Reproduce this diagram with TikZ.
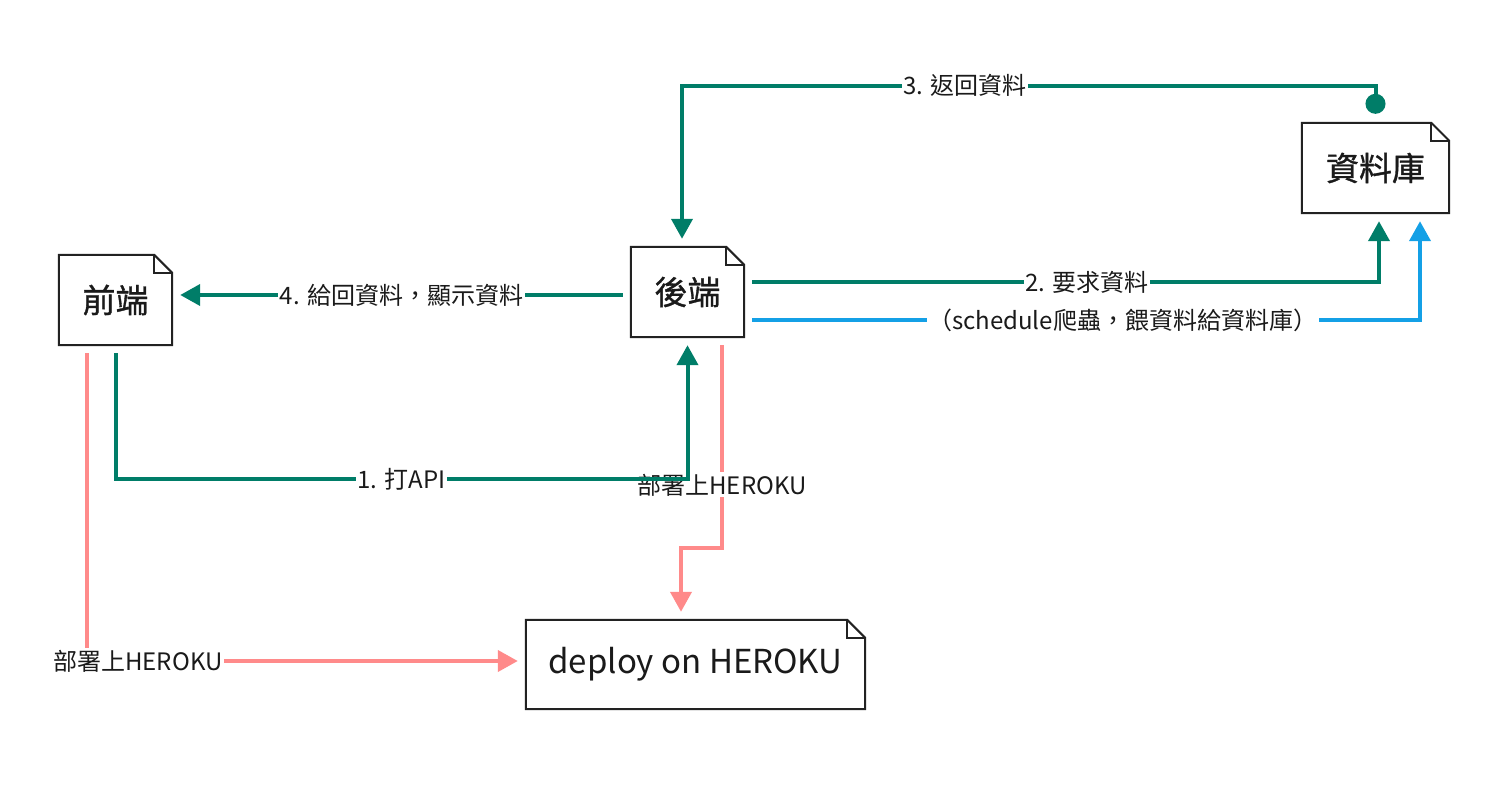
\documentclass[tikz,border=0pt]{standalone}
\usepackage{fontspec}
\setmainfont{Noto Sans CJK TC}
\newfontfamily\notefont{Noto Sans CJK TC}[FakeBold=1]
\usetikzlibrary{arrows.meta}
\definecolor{flowgreen}{RGB}{0,125,104}
\definecolor{flowblue}{RGB}{20,160,230}
\definecolor{flowpink}{RGB}{255,138,138}
\definecolor{edgegray}{RGB}{34,34,34}
\definecolor{txt}{RGB}{26,26,26}

\begin{document}
\begin{tikzpicture}[x=1pt,y=1pt,yscale=-1,xscale=1,
  >={Triangle[length=20pt,width=21pt]},
  notebox/.style={minimum width=113, minimum height=90, inner sep=0pt, font=\notefont\fontsize{33}{38}\selectfont, text=txt},
  flow/.style={line width=4pt, ->, shorten <=8pt, shorten >=8pt},
  lbl/.style={fill=white, inner sep=1.5pt, font=\fontsize{24}{28}\selectfont, text=txt}]
\useasboundingbox (0,0) rectangle (1492,786);

% Note Nodes
\node[notebox] (front) at (115.5,300) {前端};
\node[notebox] (back) at (687.5,292) {後端};
\node[notebox, minimum width=147] (db) at (1375.5,168) {資料庫};
\node[notebox, minimum width=339, minimum height=89, font=\fontsize{33}{38}\selectfont] (deploy) at (695.5,664.5) {deploy on HEROKU};

%Shape: Note outlines
\foreach \n in {front,back,db,deploy}{
  \draw[line width=2pt, draw=edgegray] (\n.south west) -- (\n.north west) -- ([xshift=-18]\n.north east) -- ([yshift=18]\n.north east) -- (\n.south east) -- cycle;
  \draw[line width=1.6pt, draw=edgegray] ([xshift=-18]\n.north east) -- ([xshift=-18,yshift=18]\n.north east) -- ([yshift=18]\n.north east);
}

%Connector: deploy back
\draw[flow, draw=flowpink] ([xshift=34.5]back.south) -- node[lbl, pos=0.7] {部署上HEROKU} ++(0,211) -| ([xshift=-14.5]deploy.north);
%Connector: deploy front
\draw[flow, draw=flowpink] ([xshift=-28.5]front.south) |- node[lbl, pos=0.558] {部署上HEROKU} ([yshift=-3.5]deploy.west);
%Connector: 1
\draw[flow, draw=flowgreen] (front.south) -- ++(0,134) -| node[lbl, pos=0.25] {1. 打API} (back.south);
%Connector: 2
\draw[flow, draw=flowgreen] ([yshift=-10]back.east) -| node[lbl, pos=0.27] {2. 要求資料} ([xshift=3.5]db.south);
%Connector: 3
\draw[flow, draw=flowgreen, {Circle[length=20pt]}->, shorten <=9pt] (db.north) -- ++(0,-37) -| node[lbl, pos=0.296] {3. 返回資料} ([xshift=-5.5]back.north);
%Connector: 4
\draw[flow, draw=flowgreen] ([yshift=3]back.west) -- node[lbl] {4. 給回資料，顯示資料} ([yshift=3]back.west -| front.east);
%Connector: schedule
\draw[flow, draw=flowblue] ([yshift=28]back.east) -| node[lbl, pos=0.28] {（schedule爬蟲，餵資料給資料庫）} ([xshift=44.5]db.south);

\end{tikzpicture}
\end{document}
